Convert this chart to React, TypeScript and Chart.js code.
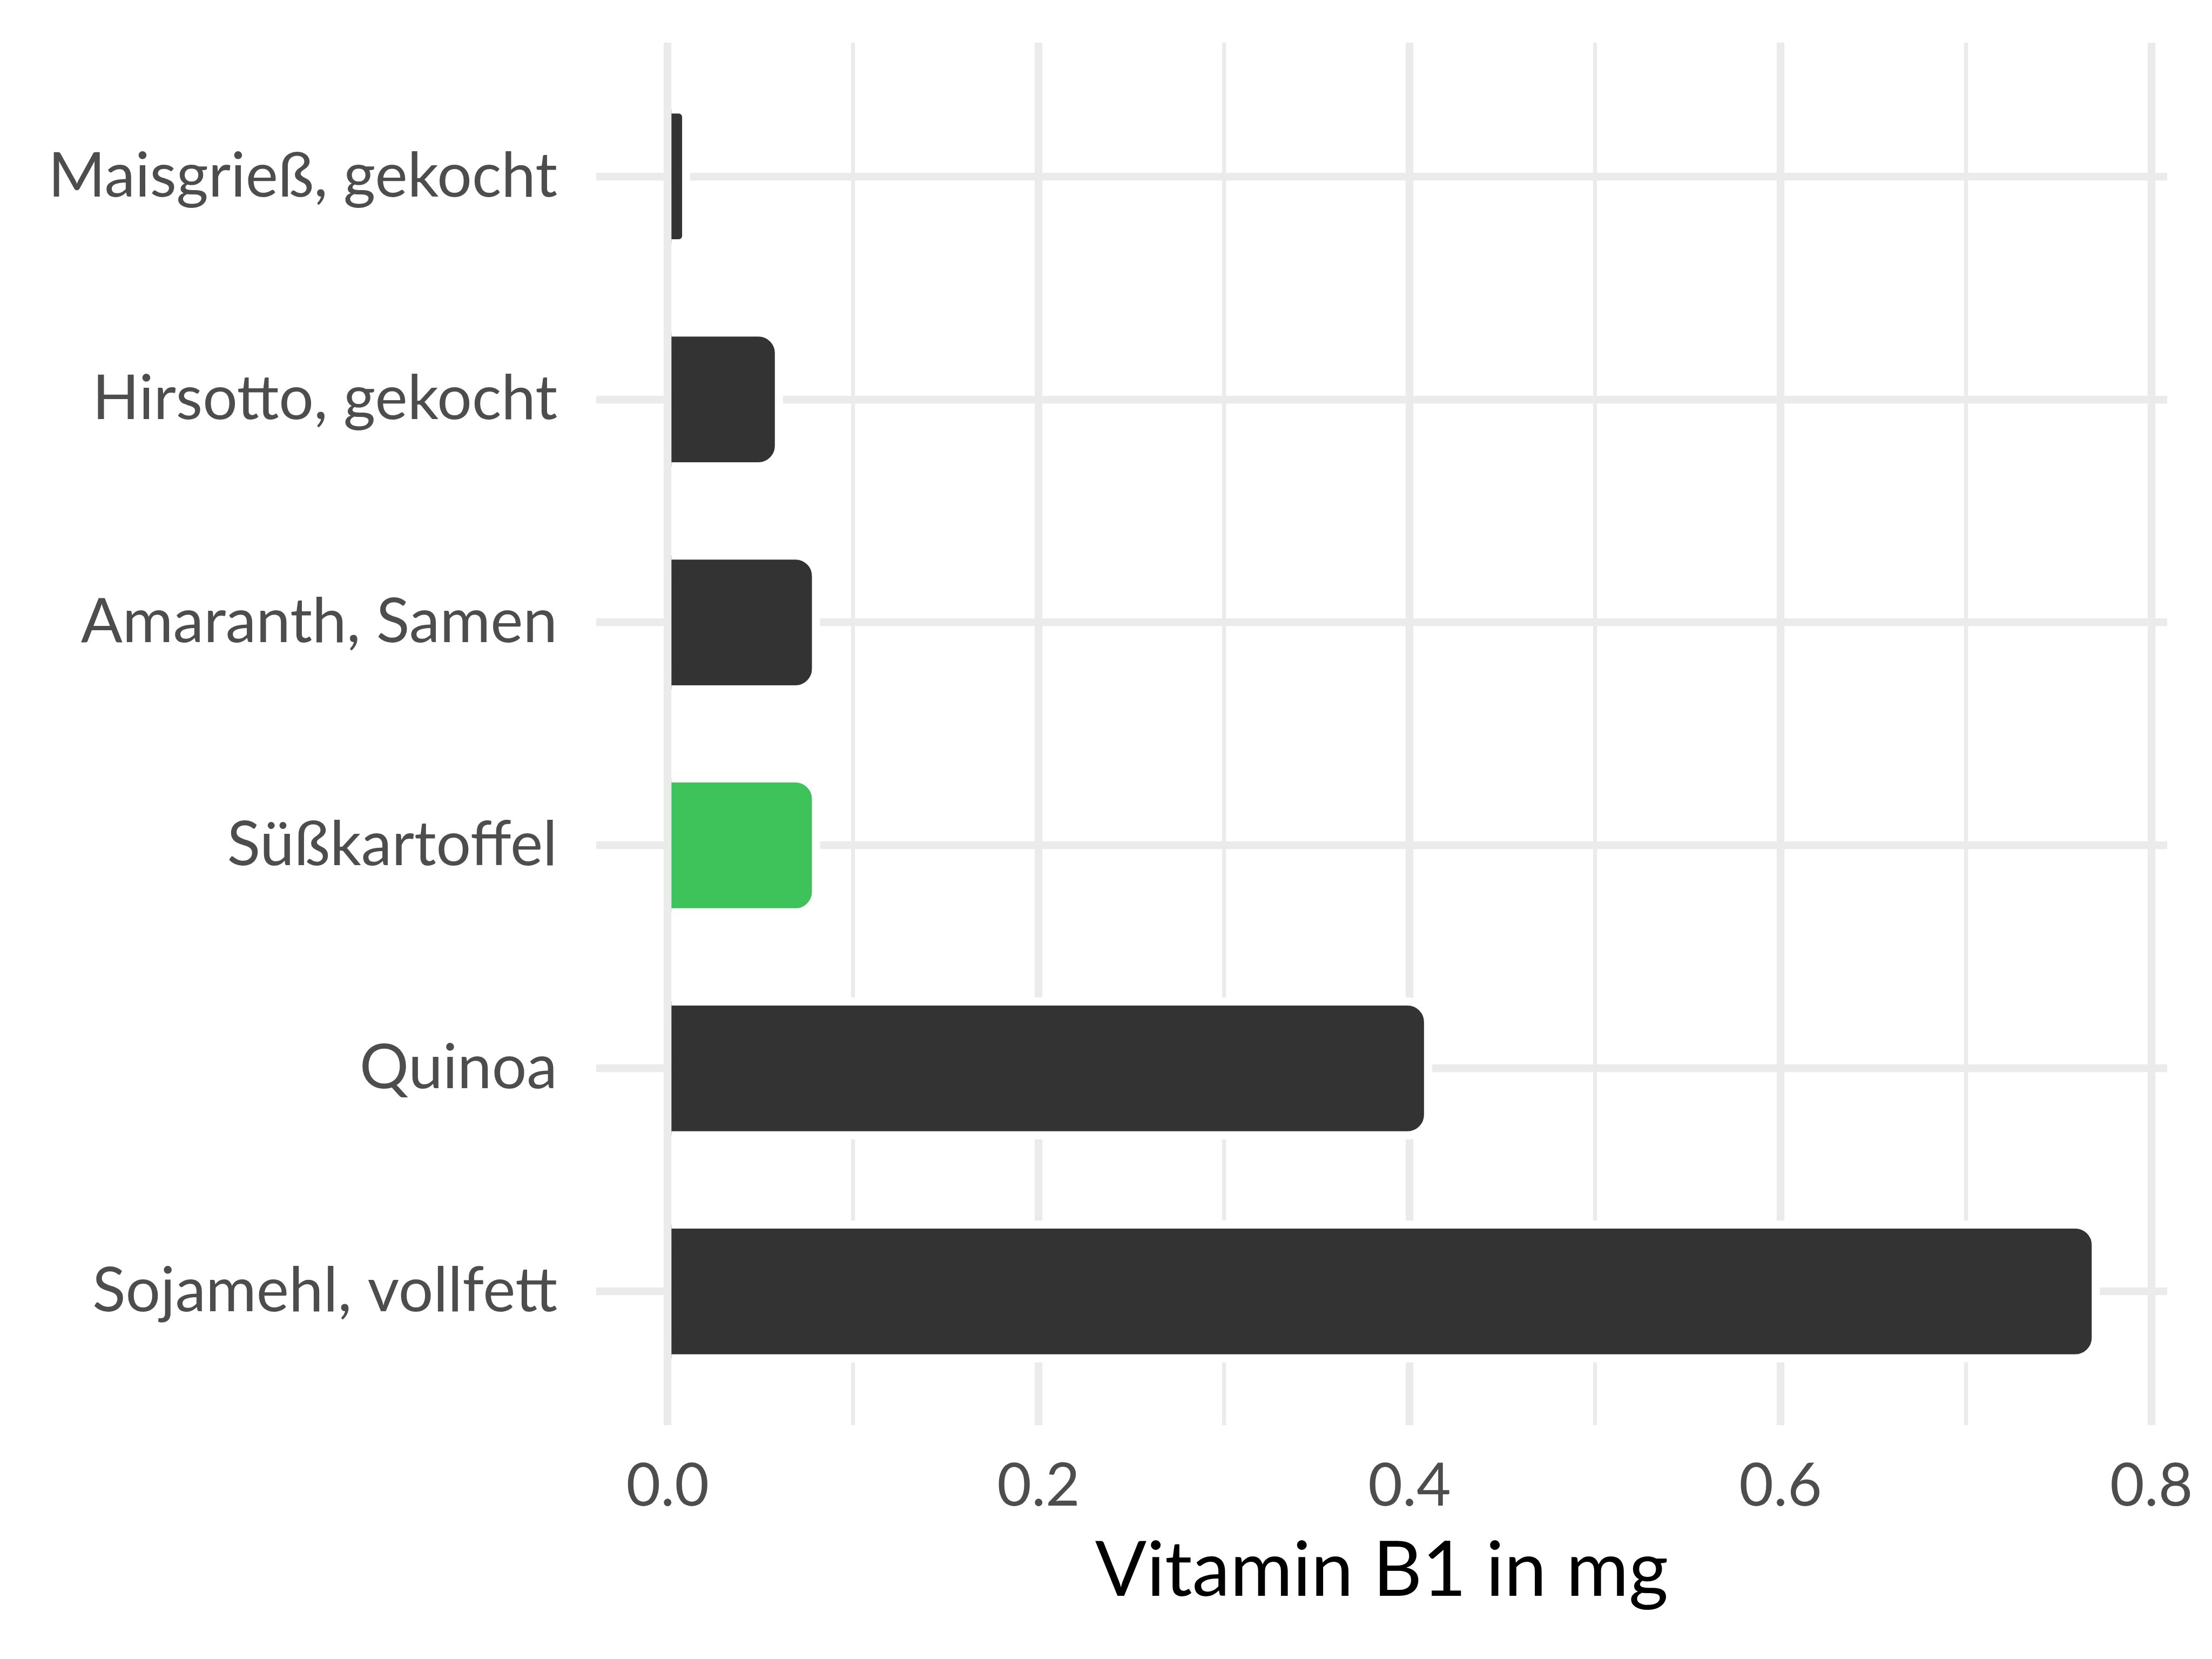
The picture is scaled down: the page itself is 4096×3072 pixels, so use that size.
import React, { useEffect, useRef } from 'react';
import { Chart, registerables } from 'chart.js';

Chart.register(...registerables);

// ---- data ----
const categories: string[] = [
  'Maisgrieß, gekocht',
  'Hirsotto, gekocht',
  'Amaranth, Samen',
  'Süßkartoffel',
  'Quinoa',
  'Sojamehl, vollfett',
];
const values: number[] = [0.01, 0.06, 0.08, 0.08, 0.41, 0.77];
const highlighted: boolean[] = [false, false, false, true, false, false];
const xTickValues: number[] = [0, 0.1, 0.2, 0.3, 0.4, 0.5, 0.6, 0.7, 0.8];
const xTickLabels: string[] = ['0.0', '', '0.2', '', '0.4', '', '0.6', '', '0.8'];
const xAxisTitle = 'Vitamin B1 in mg';
const xMin = -0.0385;
const xMax = 0.8085;

// ---- styles ----
const BAR_DARK = '#333333';
const BAR_GREEN = '#3EC35A';
const GRID = '#EBEBEB';
const FONT = 'Lato, "Liberation Sans", sans-serif';
const BAR_RADIUS = 38;
const HALO = 15;

const haloPlugin = {
  id: 'barHalo',
  afterDatasetsDraw(chart: any) {
    const ctx = chart.ctx;
    const area = chart.chartArea;
    const meta = chart.getDatasetMeta(0);
    meta.data.forEach((el: any) => {
      const { x, y, base, height } = el.getProps(['x', 'y', 'base', 'height'], true);
      const w = x - base;
      const top = y - height / 2;
      const bottom = y + height / 2;
      const r = Math.max(0, Math.min(BAR_RADIUS, w / 2, height / 2));
      ctx.save();
      ctx.beginPath();
      ctx.rect(base, area.top, area.right - base, area.bottom - area.top);
      ctx.clip();
      ctx.beginPath();
      ctx.moveTo(base - HALO, top);
      ctx.lineTo(x - r, top);
      ctx.arcTo(x, top, x, top + r, r);
      ctx.lineTo(x, bottom - r);
      ctx.arcTo(x, bottom, x - r, bottom, r);
      ctx.lineTo(base - HALO, bottom);
      ctx.lineWidth = HALO;
      ctx.strokeStyle = '#ffffff';
      ctx.stroke();
      ctx.restore();
    });
  },
};

export default function App() {
  const ref = useRef<HTMLCanvasElement | null>(null);

  useEffect(() => {
    document.body.style.margin = '0';
    document.body.style.overflow = 'hidden';
    const canvas = ref.current;
    if (!canvas) return;
    const chart = new Chart(canvas, {
      type: 'bar',
      data: {
        datasets: [
          {
            data: categories.map((c, i) => ({ x: values[i], y: i })),
            backgroundColor: highlighted.map((h) => (h ? BAR_GREEN : BAR_DARK)),
            borderWidth: 0,
            borderRadius: BAR_RADIUS,
            borderSkipped: 'start',
            barPercentage: 0.6,
            categoryPercentage: 1,
          },
        ],
      },
      options: {
        indexAxis: 'y',
        responsive: false,
        animation: false,
        devicePixelRatio: 1,
        layout: { padding: { top: 79, right: 83, bottom: 0, left: 0 } },
        plugins: {
          legend: { display: false },
          tooltip: { enabled: false },
          title: { display: false },
        },
        scales: {
          x: {
            type: 'linear',
            position: 'bottom',
            min: xMin,
            max: xMax,
            offset: false,
            afterBuildTicks: (scale: any) => {
              scale.ticks = xTickValues.map((v) => ({ value: v }));
            },
            afterFit: (scale: any) => {
              scale.height = 3072 - 2639;
              scale.paddingLeft = 0;
              scale.paddingRight = 0;
            },
            border: { display: false },
            grid: {
              color: GRID,
              drawTicks: false,
              offset: false,
              lineWidth: (ctx: any) => {
                const idx = xTickValues.findIndex((v) => Math.abs(v - ctx.tick?.value) < 1e-9);
                return idx >= 0 && xTickLabels[idx] !== '' ? 14.2 : 7.2;
              },
            },
            ticks: {
              autoSkip: false,
              maxRotation: 0,
              padding: 48,
              color: '#4D4D4D',
              font: { family: FONT, size: 110 },
              callback: (v: any) => {
                const idx = xTickValues.findIndex((t) => Math.abs(t - Number(v)) < 1e-9);
                return idx >= 0 ? xTickLabels[idx] : '';
              },
            },
            title: {
              display: true,
              text: xAxisTitle,
              color: '#000000',
              font: { family: FONT, size: 141 },
              padding: { top: 0, bottom: 78 },
            },
          },
          y: {
            type: 'linear',
            reverse: true,
            min: -0.6,
            max: categories.length - 0.4,
            offset: false,
            afterBuildTicks: (scale: any) => {
              scale.ticks = categories.map((c, i) => ({ value: i }));
            },
            afterFit: (scale: any) => {
              scale.width = 1104;
              scale.paddingTop = 0;
              scale.paddingBottom = 0;
            },
            border: { display: false },
            grid: {
              color: GRID,
              lineWidth: 14.2,
              drawTicks: false,
              offset: false,
            },
            ticks: {
              autoSkip: false,
              padding: 72,
              color: '#4D4D4D',
              font: { family: FONT, size: 114 },
              callback: (v: any) => categories[Math.round(Number(v))] ?? '',
            },
          },
        },
      },
      plugins: [haloPlugin],
    } as any);
    return () => chart.destroy();
  }, []);

  return (
    <div style={{ width: 4096, height: 3072 }}>
      <canvas ref={ref} width={4096} height={3072} style={{ display: 'block', width: 4096, height: 3072 }} />
    </div>
  );
}
